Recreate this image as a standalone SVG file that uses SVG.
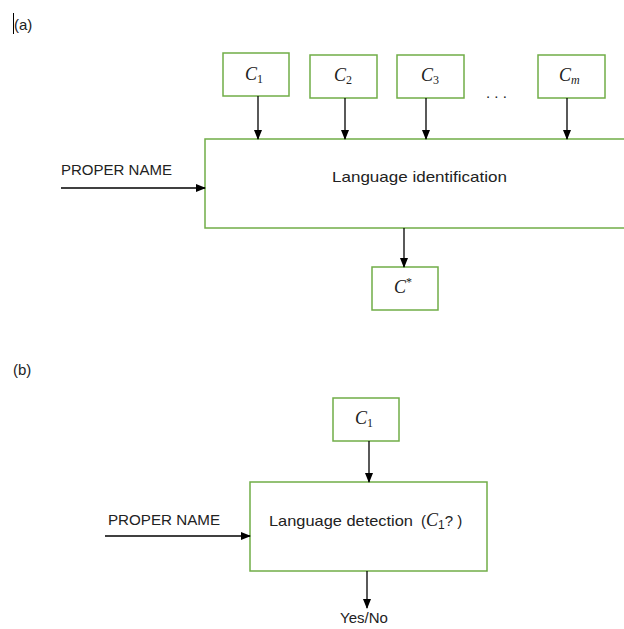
<svg xmlns="http://www.w3.org/2000/svg" width="624" height="629" viewBox="0 0 624 629">
<style>
.box{fill:#fff;stroke:#70AD47;stroke-width:1.5}
.t{font-family:"Liberation Sans",Arial,sans-serif;font-size:15px;fill:#222}
.m{font-family:"Liberation Serif","DejaVu Serif",serif;font-style:italic;font-size:18px;fill:#222}
.s{font-size:12px}
.c{stroke:#000;stroke-width:1.3;fill:none;marker-end:url(#ah)}
</style>
<defs>
<marker id="ah" markerWidth="10" markerHeight="10" refX="9" refY="5" orient="auto" markerUnits="userSpaceOnUse">
<path d="M0,1 L10,5 L0,9 Z" fill="#000"/>
</marker>
</defs>
<rect width="624" height="629" fill="#fff"/>
<line x1="13.5" y1="13" x2="13.5" y2="34" stroke="#000" stroke-width="1"/>
<text class="t" x="14" y="30" font-size="16">(a)</text>
<text class="t" x="13" y="375" font-size="16">(b)</text>

<g id="a-c1"><rect class="box" x="223" y="53" width="66" height="43"/><text class="m" x="245" y="80">C<tspan class="s" dy="3" font-style="normal">1</tspan></text></g>
<g id="a-c2"><rect class="box" x="310" y="55" width="67" height="43"/><text class="m" x="334" y="81">C<tspan class="s" dy="3" font-style="normal">2</tspan></text></g>
<g id="a-c3"><rect class="box" x="397" y="55" width="67" height="43"/><text class="m" x="421" y="81">C<tspan class="s" dy="3" font-style="normal">3</tspan></text></g>
<g id="a-dots"><text class="t" x="486" y="98">. . .</text></g>
<g id="a-cm"><rect class="box" x="538" y="55" width="67" height="43"/><text class="m" x="559" y="81">C<tspan class="s" dy="3">m</tspan></text></g>
<g id="a-main"><rect class="box" x="205" y="139" width="430" height="89"/><text class="t" x="332" y="182" font-size="17" textLength="175" lengthAdjust="spacingAndGlyphs">Language identification</text></g>
<g id="a-cstar"><rect class="box" x="372" y="267" width="66" height="43"/><text class="m" x="394" y="293">C<tspan class="s" dy="-7" font-style="normal">*</tspan></text></g>
<g id="a-input"><text class="t" x="61" y="175" textLength="111" lengthAdjust="spacingAndGlyphs">PROPER NAME</text></g>

<g id="b-c1"><rect class="box" x="333" y="398" width="66" height="43"/><text class="m" x="355" y="424">C<tspan class="s" dy="3" font-style="normal">1</tspan></text></g>
<g id="b-main"><rect class="box" x="250" y="482" width="237" height="89"/><text class="t" x="269" y="526" font-size="17" textLength="144" lengthAdjust="spacingAndGlyphs">Language detection</text><text class="t" x="421" y="526" font-size="17">(<tspan class="m" font-size="18">C</tspan><tspan font-size="12" dy="3">1</tspan><tspan dy="-3">? )</tspan></text></g>
<g id="b-input"><text class="t" x="108" y="525" textLength="112" lengthAdjust="spacingAndGlyphs">PROPER NAME</text></g>
<g id="b-out"><text class="t" x="340" y="623" font-size="16">Yes/No</text></g>

<g id="connectors">
<line class="c" x1="61" y1="188" x2="205" y2="188"/>
<line class="c" x1="258" y1="96" x2="258" y2="139"/>
<line class="c" x1="345" y1="98" x2="345" y2="139"/>
<line class="c" x1="426" y1="98" x2="426" y2="139"/>
<line class="c" x1="567" y1="98" x2="567" y2="139"/>
<line class="c" x1="404" y1="228" x2="404" y2="267"/>
<line class="c" x1="369" y1="441" x2="369" y2="482"/>
<line class="c" x1="105" y1="536" x2="250" y2="536"/>
<line class="c" x1="367" y1="571" x2="367" y2="608"/>
</g>
</svg>
